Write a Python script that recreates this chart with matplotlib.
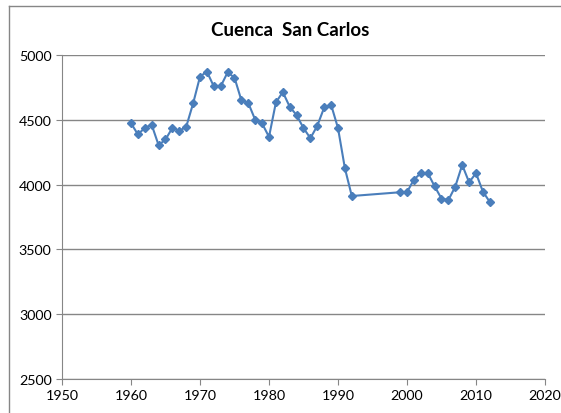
import matplotlib
matplotlib.use('Agg')
import matplotlib.pyplot as plt
from matplotlib.lines import Line2D

# Data
years = [1960, 1961, 1962, 1963, 1964, 1965, 1966, 1967, 1968, 1969,
         1970, 1971, 1972, 1973, 1974, 1975, 1976, 1977, 1978, 1979,
         1980, 1981, 1982, 1983, 1984, 1985, 1986, 1987, 1988, 1989,
         1990, 1991, 1992,
         1999, 2000, 2001, 2002, 2003, 2004, 2005, 2006, 2007, 2008,
         2009, 2010, 2011, 2012]
values = [4474, 4387, 4438, 4461, 4304, 4348, 4438, 4415, 4446, 4626,
          4833, 4872, 4758, 4758, 4866, 4825, 4650, 4629, 4500, 4472,
          4368, 4634, 4714, 4601, 4536, 4436, 4358, 4454, 4595, 4616,
          4436, 4126, 3912,
          3941, 3941, 4039, 4088, 4090, 3987, 3892, 3881, 3985, 4152,
          4018, 4088, 3946, 3866]

x_ticks = [1950, 1960, 1970, 1980, 1990, 2000, 2010, 2020]
y_ticks = [2500, 3000, 3500, 4000, 4500, 5000]

LINE_BLUE = '#4A7EBB'
GRID_GRAY = '#868686'

plt.rcParams['font.family'] = ['Lato', 'DejaVu Sans']

fig = plt.figure(figsize=(5.61, 4.14), dpi=100)
ax = fig.add_axes([62 / 561, (414 - 380) / 414, (545 - 62) / 561, (380 - 56) / 414])

ax.plot(years, values, color=LINE_BLUE, linewidth=1.5, marker='D',
        markersize=3.8, markerfacecolor=LINE_BLUE, markeredgecolor=LINE_BLUE)

ax.set_xlim(1950, 2020)
ax.set_ylim(2500, 5000)
ax.set_xticks(x_ticks)
ax.set_yticks(y_ticks)
ax.tick_params(axis='both', labelsize=10.3, length=4, color=GRID_GRAY, direction='out')
ax.yaxis.grid(True, color=GRID_GRAY, linewidth=1)
ax.set_axisbelow(True)
for side in ['top', 'right']:
    ax.spines[side].set_visible(False)
for side in ['left', 'bottom']:
    ax.spines[side].set_color(GRID_GRAY)

fig.text(290 / 561, 1 - 30 / 414, 'Cuenca  San Carlos', ha='center', va='center',
         fontsize=13.5, fontweight='bold')

# chart border (only top and left visible, the image is cropped)
top_y = 1 - 6.5 / 414
left_x = 8.5 / 561
fig.lines.append(Line2D([left_x, 1], [top_y, top_y], transform=fig.transFigure,
                        color=GRID_GRAY, linewidth=1))
fig.lines.append(Line2D([left_x, left_x], [0, top_y], transform=fig.transFigure,
                        color=GRID_GRAY, linewidth=1))

fig.savefig('out.png', dpi=100)
